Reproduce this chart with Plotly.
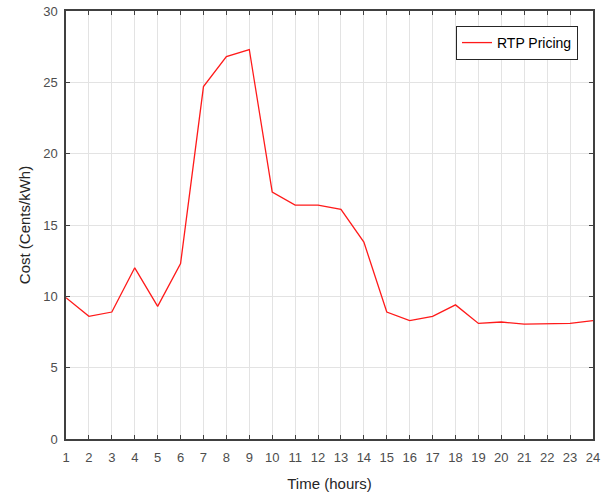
import plotly.graph_objects as go

hours = list(range(1, 25))
cost = [9.9, 8.6, 8.9, 12.0, 9.3, 12.3, 24.7, 26.8, 27.3, 17.3, 16.4, 16.4,
        16.1, 13.8, 8.9, 8.3, 8.6, 9.4, 8.1, 8.2, 8.05, 8.1, 8.1, 8.3]
series_name = "RTP Pricing"
x_ticks = list(range(1, 25))
y_ticks = [0, 5, 10, 15, 20, 25, 30]

FONT = "Liberation Sans, Arial"

fig = go.Figure()
fig.add_trace(go.Scatter(x=hours, y=cost, mode="lines", name=series_name,
                         line=dict(color="#ff1a1a", width=1.3)))

axis_common = dict(
    showline=True, linecolor="#404040", linewidth=1.5, mirror="ticks",
    ticks="inside", ticklen=4, tickcolor="#404040", tickwidth=1,
    showgrid=True, gridcolor="#e3e3e3", gridwidth=1, zeroline=False,
    automargin=False,
    tickfont=dict(family=FONT, size=13, color="#4d4d4d"),
)

fig.update_xaxes(range=[1, 24], tickvals=x_ticks, ticktext=[str(t) for t in x_ticks],
                 ticklabelstandoff=6,
                 title=dict(text="Time (hours)", font=dict(family=FONT, size=15, color="#262626"), standoff=14),
                 **axis_common)
fig.update_yaxes(range=[0, 30], tickvals=y_ticks,
                 ticklabelstandoff=4,
                 title=dict(text="Cost (Cents/kWh)", font=dict(family=FONT, size=15, color="#262626"), standoff=9),
                 **axis_common)

fig.update_layout(
    width=613, height=496,
    margin=dict(l=66, r=20, t=11, b=57),
    paper_bgcolor="white", plot_bgcolor="white",
    showlegend=True,
    legend=dict(x=0.9715, y=0.965, xanchor="right", yanchor="top",
                bordercolor="#262626", borderwidth=1, bgcolor="white",
                font=dict(family=FONT, size=14, color="#000000")),
)

fig.write_html("out.html", post_script="document.body.style.margin='0';",
               config={"displayModeBar": False})
